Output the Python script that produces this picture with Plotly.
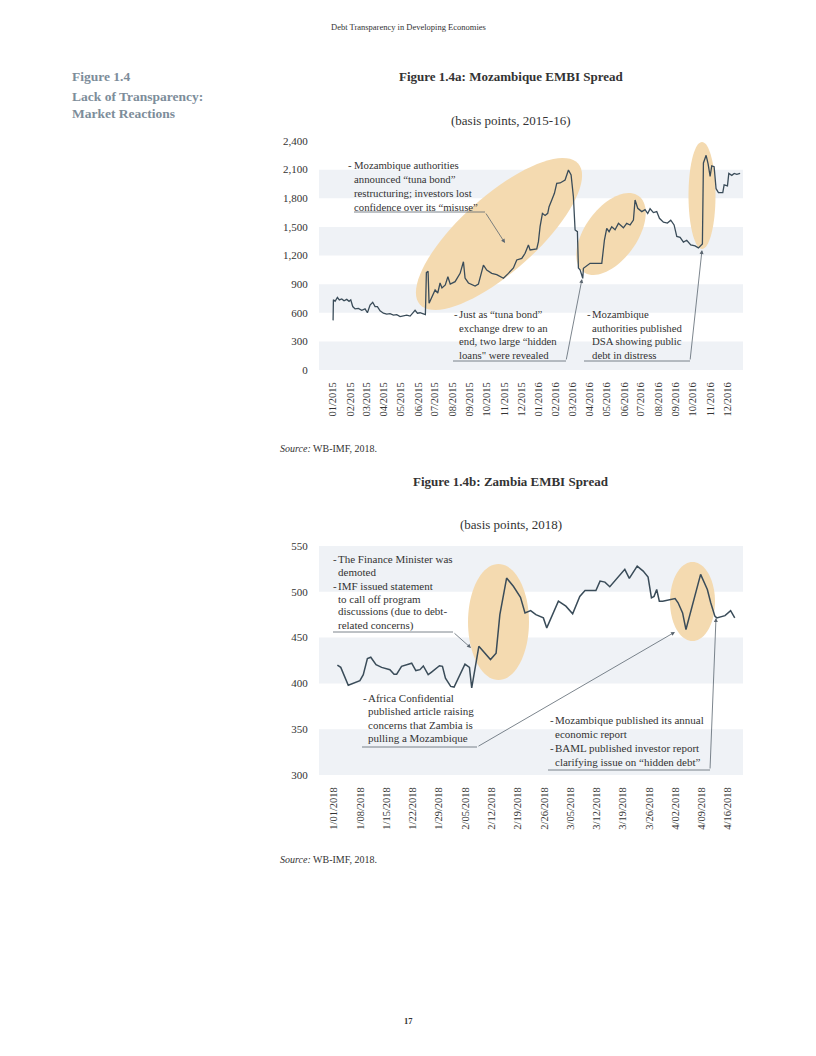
import numpy as np
import pandas as pd
import plotly.graph_objects as go

# ---------------- data ----------------
# Mozambique EMBI spread: days since 2015-01-01, basis points
moz_day = [0, 0.6, 3.6, 7.7, 11.2, 15.4, 19.5, 24.3, 28.4, 31.4, 34.9, 39.1, 45.0, 50.9, 56.8,
           61.0, 65.7, 70.4, 74.6, 78.7, 83.5, 89.4, 95.3, 101.2, 107.2, 113.1, 119.0, 124.9,
           130.8, 136.8, 142.7, 145.6, 149.8, 154.5, 159.2, 163.9, 165.7, 168.7, 170.5, 175.2,
           181.2, 185.9, 190.0, 193.4, 199.3, 203.9, 208.1, 216.7, 225.6, 231.5, 234.4, 240.4,
           252.2, 258.1, 267.0, 272.9, 281.8, 290.7, 302.5, 311.4, 320.3, 326.2, 335.1, 341.0,
           346.9, 349.9, 361.7, 364.7, 367.6, 371.8, 376.5, 381.2, 383.6, 388.4, 393.1, 397.2,
           403.2, 412.0, 418.0, 422.7, 426.8, 429.8, 433.9, 435.7, 438.7, 441.6, 443.4, 444.6,
           450.5, 456.4, 477.2, 481.9, 486.0, 490.2, 494.9, 500.8, 506.8, 515.6, 521.5, 527.5,
           533.4, 536.3, 541.1, 548.2, 554.1, 558.8, 563.0, 568.9, 574.8, 579.6, 586.7, 593.8,
           599.7, 605.6, 610.4, 616.3, 622.2, 628.1, 635.2, 642.9, 648.8, 653.0, 655.9, 657.7,
           662.5, 666.0, 669.6, 672.5, 676.7, 680.2, 684.4, 692.1, 694.5, 700.4, 702.8, 708.1,
           712.3, 717.0, 722.9]
moz_bp = [520, 735, 720, 760, 735, 745, 725, 740, 720, 735, 665, 640, 645, 625, 640,
          600, 680, 710, 665, 665, 620, 595, 585, 590, 575, 580, 560, 570,
          575, 565, 600, 625, 595, 600, 590, 580, 1020, 1035, 700, 768,
          838, 807, 912, 860, 891, 978, 900, 926, 1013, 1135, 964, 912,
          880, 900, 1100, 1048, 1013, 1000, 961, 1013, 1069, 1153, 1170, 1223,
          1310, 1258, 1270, 1345, 1502, 1642, 1620, 1642, 1711, 1782, 1852, 1957,
          1960, 1991, 2096, 2044, 1816, 1467, 1450, 1069, 1050, 996, 960, 1066,
          1090, 1118, 1118, 1362, 1485, 1450, 1502, 1470, 1537, 1490, 1537, 1520,
          1572, 1782, 1695, 1660, 1680, 1640, 1690, 1650, 1660, 1590, 1550, 1540,
          1570, 1520, 1400, 1390, 1340, 1360, 1310, 1300, 1280, 1310, 1320, 2170,
          2250, 2160, 2030, 2140, 2130, 1900, 1860, 1860, 1940, 1930, 2060, 2040,
          2060, 2050, 2060]

# Zambia EMBI spread: days since 2018-01-01, basis points
zam_day = [0.9, 1.8, 3.8, 6.9, 7.8, 8.9, 9.8, 11.2, 12.7, 14.9, 16.0, 16.7, 18.0, 20.7, 21.8,
           22.9, 23.8, 25.1, 26.0, 28.1, 28.9, 29.7, 31.1, 32.0, 34.9, 36.1, 36.7, 38.6, 41.7,
           43.2, 44.2, 46.0, 47.8, 49.7, 50.9, 52.4, 53.8, 55.8, 56.7, 59.8, 61.8, 62.7, 63.6,
           65.5, 66.9, 69.8, 70.9, 72.2, 73.5, 77.5, 78.7, 80.8, 82.4, 83.7, 84.6, 85.3, 86.0,
           86.7, 87.6, 90.9, 91.7, 92.9, 93.8, 97.7, 99.5, 100.4, 101.5, 102.0, 104.2, 105.7,
           106.8]
zam_bp = [420, 417.5, 398, 403, 409.5, 427, 428.5, 420.4, 417.5, 415, 410, 410, 418.6, 422, 414,
          415, 419, 409.5, 412.4, 419.3, 418.6, 405.8, 396.7, 396, 421, 417.5, 395, 440.5, 426,
          433, 475, 515, 506, 494, 477, 479.5, 475, 471.5, 460.6, 489.8, 484.3, 480.6, 476,
          495, 501.5, 501.5, 511.7, 510.6, 505.5, 524.5, 514.6, 528, 522.6, 516, 493.4, 495, 502.5,
          489.8, 489.8, 492.7, 488, 477, 458.8, 519, 502.5, 488, 473.4, 471.5, 474, 479.5,
          471.5]

moz_yticks = [0, 300, 600, 900, 1200, 1500, 1800, 2100, 2400]
zam_yticks = [300, 350, 400, 450, 500, 550]

moz_dates = pd.Timestamp("2015-01-01") + pd.to_timedelta(moz_day, unit="D")
zam_dates = pd.Timestamp("2018-01-01") + pd.to_timedelta(zam_day, unit="D")

# ---------------- helpers ----------------
# The page body has an 8px margin; the figure is sized to fit the 816x1056 window.
PAD = 8
W, H = 816 - 2 * PAD, 1056 - 2 * PAD
def px(x):
    return (x - PAD) / W
def py(y):
    return 1 - (y - PAD) / H

SERIF = "Liberation Serif, Times New Roman, serif"
TXT = "#333333"
LINE = "#3a4c59"
BAND = "#eff2f6"
ELL = "#f4dab0"
ARR = "#5b6670"

fig = go.Figure()
fig.add_trace(go.Scatter(x=moz_dates, y=moz_bp, mode="lines", line=dict(color=LINE, width=1.3),
                         xaxis="x", yaxis="y", hoverinfo="skip"))
fig.add_trace(go.Scatter(x=zam_dates, y=zam_bp, mode="lines", line=dict(color=LINE, width=1.5),
                         xaxis="x2", yaxis="y2", hoverinfo="skip"))

shapes = []
# grid bands
for y0 in [0, 600, 1200, 1800]:
    shapes.append(dict(type="rect", xref="x domain", yref="y", x0=0, x1=1, y0=y0, y1=y0 + 300,
                       fillcolor=BAND, line=dict(width=0), layer="below"))
for y0 in [300, 400, 500]:
    shapes.append(dict(type="rect", xref="x2 domain", yref="y2", x0=0, x1=1, y0=y0, y1=y0 + 50,
                       fillcolor=BAND, line=dict(width=0), layer="below"))

def ellipse_path(cx, cy, a, b, theta_deg, n=80):
    th = np.radians(theta_deg)
    u = np.array([np.cos(th), -np.sin(th)])
    v = np.array([np.sin(th), np.cos(th)])
    t = np.linspace(0, 2 * np.pi, n, endpoint=False)
    pts = [(cx + a * np.cos(tt) * u[0] + b * np.sin(tt) * v[0],
            cy + a * np.cos(tt) * u[1] + b * np.sin(tt) * v[1]) for tt in t]
    s = "M " + " L ".join(f"{px(x):.5f},{py(y):.5f}" for x, y in pts) + " Z"
    return s

for (cx, cy, a, b, th) in [(499, 234, 106, 38, 41.7), (611, 234, 47, 26, 54),
                           (702, 195.5, 53.5, 13.5, 90),
                           (498.5, 622, 58, 30.5, 90), (692.5, 601.5, 39.5, 22.5, 90)]:
    shapes.append(dict(type="path", xref="paper", yref="paper", path=ellipse_path(cx, cy, a, b, th),
                       fillcolor=ELL, line=dict(width=0), layer="below"))

# underlines
for (x0, x1, y) in [(354, 485, 212), (453, 566, 361), (584, 690, 361),
                    (333, 453, 632), (362, 477, 747), (548, 710, 770)]:
    shapes.append(dict(type="line", xref="paper", yref="paper", x0=px(x0), x1=px(x1),
                       y0=py(y), y1=py(y), line=dict(color=ARR, width=0.8)))

ann = []
def text(x, y, s, size=10.5, xanchor="left", bold=False, color=TXT, yanchor="middle"):
    if bold:
        s = f"<b>{s}</b>"
    ann.append(dict(x=px(x), y=py(y), xref="paper", yref="paper", text=s, showarrow=False,
                    xanchor=xanchor, yanchor=yanchor, align="left" if xanchor == "left" else "center",
                    font=dict(family=SERIF, size=size, color=color)))

def block(xdash, xtext, ys, lines, dashes, size):
    for i, (yy, s) in enumerate(zip(ys, lines)):
        if i in dashes:
            text(xdash, yy, "-", size=size)
        text(xtext, yy, s, size=size)

def arrow(tx, ty, hx, hy):
    ann.append(dict(x=px(hx), y=py(hy), xref="paper", yref="paper", text="", showarrow=True,
                    axref="pixel", ayref="pixel", ax=tx - hx, ay=ty - hy,
                    arrowhead=2, arrowsize=1, arrowwidth=0.8, arrowcolor=ARR, standoff=0))

# page texts
text(408, 27, "Debt Transparency in Developing Economies", size=8.5, xanchor="center")
HEAD = "#7d8d9a"
text(70, 77, "Figure 1.4", size=13.5, bold=True, color=HEAD)
text(70, 96, "Lack of Transparency:", size=13.5, bold=True, color=HEAD)
text(70, 114, "Market Reactions", size=13.5, bold=True, color=HEAD)
text(511, 77, "Figure 1.4a: Mozambique EMBI Spread", size=13, xanchor="center", bold=True)
text(511, 120, "(basis points, 2015-16)", size=13, xanchor="center")
text(278, 448, "<i>Source:</i> WB-IMF, 2018.", size=10)
text(511, 482, "Figure 1.4b: Zambia EMBI Spread", size=13, xanchor="center", bold=True)
text(511, 524, "(basis points, 2018)", size=13, xanchor="center")
text(278, 859, "<i>Source:</i> WB-IMF, 2018.", size=10)
text(408, 1021, "17", size=8.5, xanchor="center", bold=True)

# chart annotations
SA, SB = 10.75, 11
block(346, 352, [165, 179, 193, 207],
      ["Mozambique authorities", "announced “tuna bond”", "restructuring; investors lost",
       "confidence over its “misuse”"], [0], SA)
arrow(485, 212, 505, 243)
block(452, 457, [314, 327.5, 341, 354.5],
      ["Just as “tuna bond”", "exchange drew to an", "end, two large “hidden",
       "loans\" were revealed"], [0], SA)
arrow(566, 361, 582, 279)
block(585, 590, [314, 327.5, 341, 354.5],
      ["Mozambique", "authorities published", "DSA showing public", "debt in distress"], [0], SA)
arrow(690, 361, 702, 250)

block(331, 336, [559, 571.5, 586, 598.5, 611.5, 625],
      ["The Finance Minister was", "demoted", "IMF issued statement", "to call off program",
       "discussions (due to debt-", "related concerns)"], [0, 2], SB)
arrow(453, 632, 471, 648)
block(361, 366, [698, 711, 724.5, 738],
      ["Africa Confidential", "published article raising", "concerns that Zambia is",
       "pulling a Mozambique"], [0], SB)
arrow(477, 747, 675, 632)
block(548, 553, [720, 734, 748, 762],
      ["Mozambique published its annual", "economic report", "BAML published investor report",
       "clarifying issue on “hidden debt”"], [0, 2], SB)
arrow(710, 770, 716, 618)

tickfont = dict(family=SERIF, size=10.5, color=TXT)
xcommon = dict(showgrid=False, zeroline=False, showline=False, ticks="outside", ticklen=7,
               tickcolor="rgba(0,0,0,0)", tickangle=-90, tickfont=tickfont, type="date",
               automargin=False)
ycommon = dict(showgrid=False, zeroline=False, showline=False, ticks="outside", ticklen=8,
               tickcolor="rgba(0,0,0,0)", tickfont=dict(family=SERIF, size=11, color=TXT),
               automargin=False)

fig.update_layout(
    width=W, height=H, margin=dict(l=0, r=0, t=0, b=0),
    paper_bgcolor="white", plot_bgcolor="rgba(0,0,0,0)", showlegend=False,
    xaxis=dict(domain=[px(319), px(743)], anchor="y", range=["2014-12-07", "2016-12-29"],
               tick0="2015-01-01", dtick="M1", tickformat="%m/%Y", **xcommon),
    yaxis=dict(domain=[py(370), py(141)], anchor="x", range=[0, 2400],
               tickvals=moz_yticks, tickformat=",", **ycommon),
    xaxis2=dict(domain=[px(319), px(743)], anchor="y2", range=["2017-12-28", "2018-04-20"],
                tick0="2018-01-01", dtick=7 * 86400000, tickformat="%-m/%d/%Y", **xcommon),
    yaxis2=dict(domain=[py(775), py(546)], anchor="x2", range=[300, 550],
                tickvals=zam_yticks, **ycommon),
    shapes=shapes, annotations=ann,
)

fig.write_html("out.html")
